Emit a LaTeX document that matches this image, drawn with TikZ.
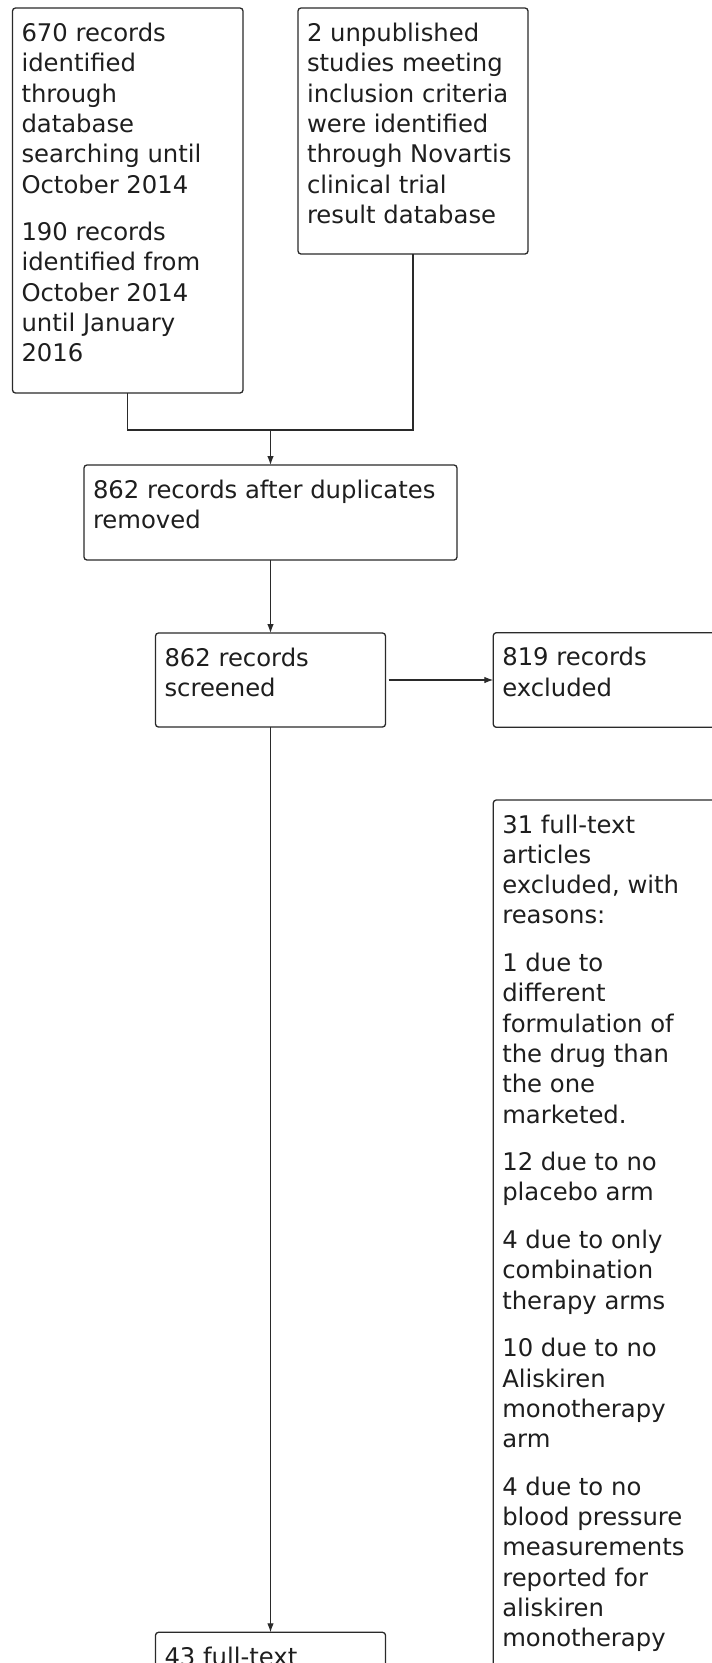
\documentclass[tikz,border=0pt]{standalone}
\usepackage{fontspec}
\setmainfont{DejaVu Sans}
\usetikzlibrary{arrows.meta}
\definecolor{linec}{HTML}{2A2A2A}
\definecolor{txtc}{HTML}{1E1E1E}
\newcommand{\bxt}[1]{\parbox[t]{360pt}{\raggedright\fontsize{24.3pt}{30.3pt}\selectfont\setlength{\parskip}{17.3pt}#1}}
\tikzset{
  boxnode/.style={draw=linec, line width=1.3pt, rounded corners=3pt, inner sep=0pt, outer sep=0pt, anchor=north west},
  txtnode/.style={anchor=base west, inner sep=0pt, outer sep=0pt, text=txtc},
  conn/.style={draw=linec, line width=1.1pt},
  arr/.style={conn, -{Latex[length=9pt,width=6.5pt]}}
}
\begin{document}
\begin{tikzpicture}[x=1pt,y=-1pt]
\useasboundingbox (0,0) rectangle (712,1663);
\clip (0,0) rectangle (712,1663);
\fill[white] (0,0) rectangle (712,1663);
% boxes
\node[boxnode, minimum width=230.5pt, minimum height=385pt] (b1) at (12.5,8) {};
\node[boxnode, minimum width=230pt, minimum height=246pt] (b2) at (298,8) {};
\node[boxnode, minimum width=373pt, minimum height=95pt] (b3) at (84,465) {};
\node[boxnode, minimum width=230pt, minimum height=94pt] (b4) at (155.5,633) {};
\node[boxnode, minimum width=260pt, minimum height=94.6pt] (b5) at (493.3,632.7) {};
\node[boxnode, minimum width=260pt, minimum height=950pt] (b6) at (493.3,800) {};
\node[boxnode, minimum width=230pt, minimum height=120pt] (b7) at (155.5,1632.3) {};
% texts
\node[txtnode] (t1) at ([shift={(9,33.5)}]b1.north west) {\bxt{670 records\\identified\\through\\database\\searching until\\October 2014\par 190 records\\identified from\\October 2014\\until January\\2016}};
\node[txtnode] (t2) at ([shift={(9,33.5)}]b2.north west) {\bxt{2 unpublished\\studies meeting\\inclusion criteria\\were identified\\through Novartis\\clinical trial\\result database}};
\node[txtnode] (t3) at ([shift={(9,33.5)}]b3.north west) {\bxt{862 records after duplicates\\removed}};
\node[txtnode] (t4) at ([shift={(9,33.5)}]b4.north west) {\bxt{862 records\\screened}};
\node[txtnode] (t5) at ([shift={(9,33)}]b5.north west) {\bxt{819 records\\excluded}};
\node[txtnode] (t6) at ([shift={(9,33)}]b6.north west) {\bxt{31 full-text\\articles\\excluded, with\\reasons:\par 1 due to\\different\\formulation of\\the drug than\\the one\\marketed.\par 12 due to no\\placebo arm\par 4 due to only\\combination\\therapy arms\par 10 due to no\\Aliskiren\\monotherapy\\arm\par 4 due to no\\blood pressure\\measurements\\reported for\\aliskiren\\monotherapy}};
\node[txtnode] (t7) at ([shift={(9,33.5)}]b7.north west) {\bxt{43 full-text}};
% connectors
\coordinate (h) at (0,430);
\coordinate (j) at (b3.north |- h);
\draw[conn] (b1.south) |- (j);
\draw[conn] (b2.south) |- (j);
\draw[arr] (j) -- (b3.north);
\draw[arr] (b3.south) -- (b4.north);
\draw[arr, shorten <=3pt] (b4.east) -- (b5.west);
\draw[arr] (b4.south) -- (b7.north);
\end{tikzpicture}
\end{document}
